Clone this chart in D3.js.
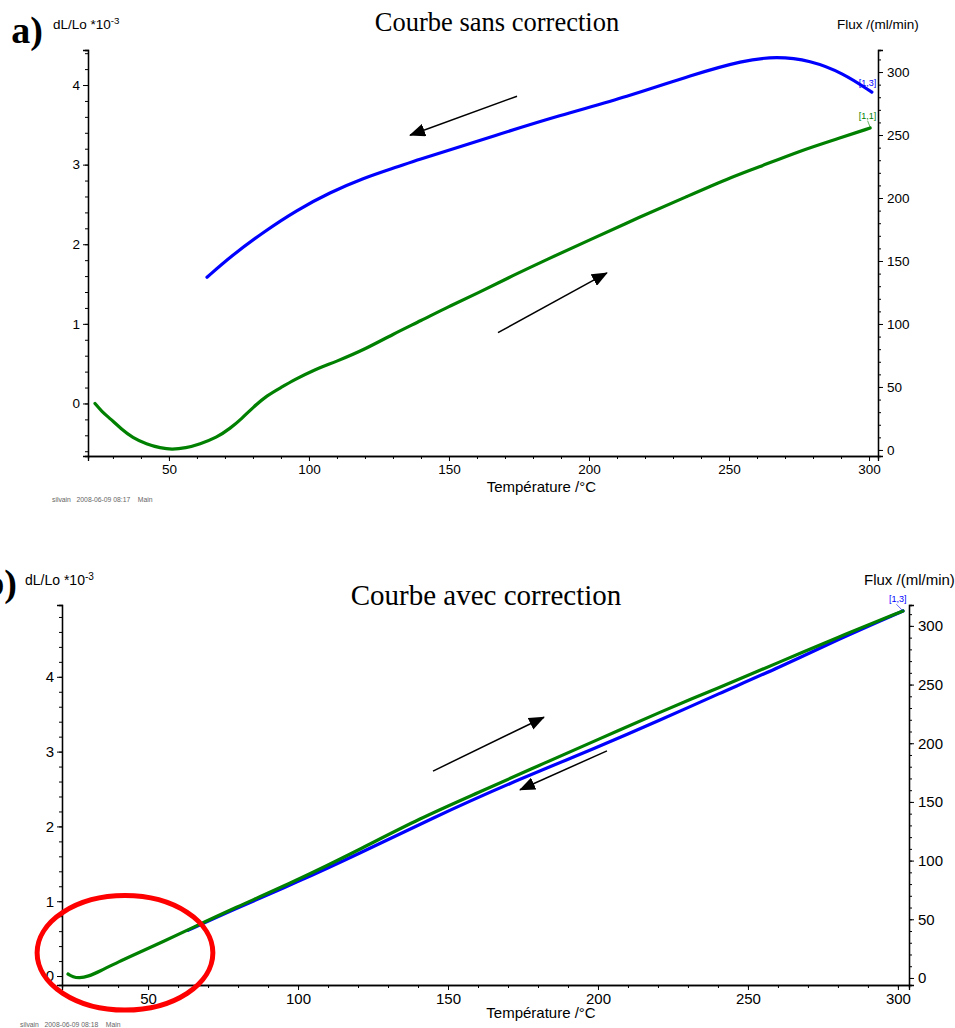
<!DOCTYPE html>
<html><head><meta charset="utf-8">
<script src="https://cdn.jsdelivr.net/npm/d3@7"></script>
<style>
body{margin:0;background:#fff;}
svg text{font-family:Arial,"Liberation Sans",sans-serif;}
svg text.serif{font-family:"Liberation Serif","Times New Roman",serif;}
</style></head>
<body>
<svg id="c" width="955" height="1028"></svg>
<script>
// ---------- DATA ----------
// Panel a : "Courbe sans correction"
const tempA_heat = [23.6,26,29,33,37,42,47,51,56,61,67,72,76,80,85,90,95,101,110,120,130,140,150,160,173,185,200,218,235,250,260,275,290,300.4];
const dlA_heat   = [0.00,-0.10,-0.19,-0.32,-0.43,-0.51,-0.56,-0.58,-0.56,-0.51,-0.43,-0.31,-0.19,-0.05,0.10,0.20,0.30,0.41,0.53,0.68,0.87,1.04,1.22,1.38,1.61,1.81,2.05,2.34,2.60,2.83,2.96,3.17,3.34,3.46];
const tempA_cool = [63.6,71.8,83.6,95.7,107.5,119.3,131.4,139.6,150,165,189.6,213.6,237,255,267,279,290.7,301];
const dlA_cool   = [1.585,1.84,2.15,2.43,2.65,2.83,2.97,3.07,3.18,3.35,3.62,3.85,4.13,4.31,4.36,4.31,4.15,3.91];
// Panel b : "Courbe avec correction"
const tempB_heat = [23.3,25,27,30,34,40,47.3,55,64,78.3,99.7,120,140.7,160,180,200,220.7,240,260.7,280,301.7];
const dlB_heat   = [0.027,-0.013,-0.027,-0.007,0.067,0.187,0.32,0.46,0.63,0.90,1.28,1.68,2.11,2.45,2.81,3.16,3.53,3.85,4.20,4.53,4.88];
const tempB_cool = [63.3,78,100,120,144.7,170,200,220.7,240,260.7,280,301.7];
const dlB_cool   = [0.61,0.88,1.26,1.63,2.11,2.57,3.06,3.42,3.77,4.13,4.50,4.88];

const xTicks = [50,100,150,200,250,300];
const xMinor = d3.range(30,301,10);
const leftTicksA = [0,1,2,3,4];
const leftMinorA = d3.range(-6,45,2).map(d=>d/10);
const leftTicksB = [0,1,2,3,4];
const leftMinorB = d3.range(0,50,2).map(d=>d/10);
const rightTicks = [0,50,100,150,200,250,300];
const rightMinor = d3.range(0,311,10);

// annotation arrows in data units [T0, v0, T1, v1]
const arrowsA = [[174.3,3.86,136.1,3.37],[167.5,0.89,206.4,1.64]];
const arrowsB = [[145,2.74,182,3.46],[203,3.01,174,2.49]];

const svg = d3.select("#c");
svg.append("defs").append("marker").attr("id","ah").attr("viewBox","0 0 16 13")
  .attr("refX",15).attr("refY",6.5).attr("markerWidth",16).attr("markerHeight",13)
  .attr("markerUnits","userSpaceOnUse").attr("orient","auto")
  .append("path").attr("d","M0,0 L16,6.5 L0,13 Z").attr("fill","#000");

function panel(cfg){
  const g = svg.append("g");
  const x = d3.scaleLinear().domain(cfg.xDom).range([cfg.left,cfg.right]);
  const yL = d3.scaleLinear().domain(cfg.yLDom).range([cfg.bottom,cfg.top]);
  const yR = d3.scaleLinear().domain(cfg.yRDom).range([cfg.bottom,cfg.top]);
  const fs = cfg.fs;
  function ax(axis, tr){
    const a = g.append("g").attr("transform",tr).call(axis);
    a.select(".domain").attr("stroke","#000").attr("stroke-width",1.3);
    a.selectAll(".tick line").attr("stroke","#000");
    a.selectAll("text").attr("font-size",fs).attr("fill","#000");
    return a;
  }
  ax(d3.axisBottom(x).tickValues(xMinor).tickSize(3).tickFormat(""),`translate(0,${cfg.bottom})`);
  ax(d3.axisLeft(yL).tickValues(cfg.leftMinor).tickSize(3).tickFormat(""),`translate(${cfg.left},0)`);
  ax(d3.axisRight(yR).tickValues(rightMinor).tickSize(3).tickFormat(""),`translate(${cfg.right},0)`);
  ax(d3.axisBottom(x).tickValues(xTicks).tickSize(5).tickPadding(3).tickFormat(d3.format("d")),`translate(0,${cfg.bottom})`);
  ax(d3.axisLeft(yL).tickValues(cfg.leftTicks).tickSize(5).tickPadding(3).tickFormat(d3.format("d")),`translate(${cfg.left},0)`);
  ax(d3.axisRight(yR).tickValues(rightTicks).tickSize(5).tickPadding(4).tickFormat(d3.format("d")),`translate(${cfg.right},0)`);

  const line = d3.line().x(d=>x(d[0])).y(d=>yL(d[1])).curve(d3.curveBasis);
  const cool = d3.zip(cfg.tc, cfg.vc), heat = d3.zip(cfg.th, cfg.vh);
  [[cool,"#0000ff"],[heat,"#008000"]].forEach(([d,c])=>g.append("path").datum(d).attr("d",line).attr("fill","none")
     .attr("stroke",c).attr("stroke-width",3.2).attr("stroke-linecap","round"));

  cfg.arrows.forEach(a=>g.append("line").attr("x1",x(a[0])).attr("y1",yL(a[1]))
     .attr("x2",x(a[2])).attr("y2",yL(a[3])).attr("stroke","#000").attr("stroke-width",1.5)
     .attr("marker-end","url(#ah)"));

  const yl = g.append("text").attr("x",cfg.yLabelX).attr("y",cfg.yLabelY).attr("font-size",cfg.fsSmall);
  yl.append("tspan").text("dL/Lo *10");
  yl.append("tspan").attr("dy",-5).attr("font-size",cfg.fsSmall*0.72).text("-3");
  g.append("text").attr("x",cfg.fluxX).attr("y",cfg.yLabelY).attr("font-size",cfg.fsFlux).text("Flux /(ml/min)");
  g.append("text").attr("class","serif").attr("x",cfg.titleX).attr("y",cfg.titleY).attr("text-anchor","middle")
    .attr("font-size",cfg.titleFs).text(cfg.title);
  g.append("text").attr("x",x(cfg.xLabelT)).attr("y",cfg.bottom+cfg.xLabelDy).attr("text-anchor","middle")
    .attr("font-size",cfg.fsX).text("Température /°C");
  g.append("text").attr("x",cfg.footX).attr("y",cfg.footY).attr("font-size",6.8).attr("fill","#666").attr("xml:space","preserve")
    .text(cfg.foot);
  g.append("text").attr("class","serif").attr("x",cfg.tagX).attr("y",cfg.tagY).attr("font-size",38).attr("font-weight","bold")
    .attr("text-anchor","end").text(cfg.tag);
  return {g,x,yL,yR};
}

const A = panel({
  left:88,right:878,top:50,bottom:456,
  xDom:[21.1,303.2], yLDom:[-0.66,4.44], yRDom:[-4.8,317.5],
  leftTicks:leftTicksA, leftMinor:leftMinorA,
  th:tempA_heat, vh:dlA_heat, tc:tempA_cool, vc:dlA_cool,
  arrows:arrowsA, fs:13.5, fsSmall:13.5, fsFlux:13.5, fsX:15,
  yLabelX:53, yLabelY:29, fluxX:837, title:"Courbe sans correction", titleX:497, titleY:31, titleFs:26.5,
  xLabelT:183, xLabelDy:36, foot:"silvain   2008-06-09 08:17    Main", footX:52, footY:502,
  tag:"a)", tagX:43, tagY:43
});
A.g.append("text").attr("x",A.x(296.3)).attr("y",A.yL(3.99)).attr("font-size",9).attr("fill","#0000ff").text("[1,3]");
A.g.append("text").attr("x",A.x(296.3)).attr("y",A.yL(3.57)).attr("font-size",9).attr("fill","#008000").text("[1,1]");
A.g.append("line").attr("x1",A.x(299.5)).attr("y1",A.yL(3.55)).attr("x2",A.x(300.4)).attr("y2",A.yL(3.47)).attr("stroke","#008000").attr("stroke-width",0.6);

const B = panel({
  left:62,right:909,top:605,bottom:985,
  xDom:[21.3,303.7], yLDom:[-0.12,4.96], yRDom:[-6,317.8],
  leftTicks:leftTicksB, leftMinor:leftMinorB,
  th:tempB_heat, vh:dlB_heat, tc:tempB_cool, vc:dlB_cool,
  arrows:arrowsB, fs:15, fsSmall:14, fsFlux:15, fsX:15,
  yLabelX:25, yLabelY:585, fluxX:864, title:"Courbe avec correction", titleX:486, titleY:605, titleFs:29,
  xLabelT:181, xLabelDy:33, foot:"silvain   2008-06-09 08:18    Main", footX:20, footY:1027,
  tag:"b)", tagX:17, tagY:596
});
B.g.append("text").attr("x",B.x(297)).attr("y",B.yL(5.0)).attr("font-size",9).attr("fill","#0000ff").text("[1,3]");
B.g.append("line").attr("x1",B.x(299.5)).attr("y1",B.yL(4.97)).attr("x2",B.x(301.7)).attr("y2",B.yL(4.88)).attr("stroke","#0000ff").attr("stroke-width",0.6);

B.g.append("ellipse").attr("cx",B.x(42.3)).attr("cy",B.yL(0.31))
  .attr("rx",B.x(42.3+29.3)-B.x(42.3)).attr("ry",B.yL(0.31)-B.yL(0.31+0.765))
  .attr("fill","none").attr("stroke","#ff0000").attr("stroke-width",5);
</script>
</body></html>
